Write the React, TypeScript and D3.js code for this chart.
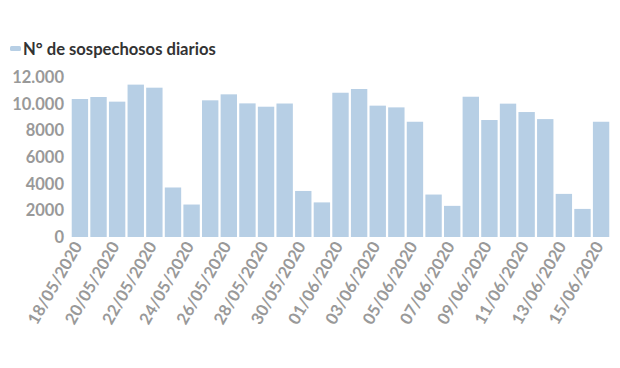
import React from "react";
import * as d3 from "d3";

const dates = [
  "18/05/2020","19/05/2020","20/05/2020","21/05/2020","22/05/2020","23/05/2020","24/05/2020",
  "25/05/2020","26/05/2020","27/05/2020","28/05/2020","29/05/2020","30/05/2020","31/05/2020",
  "01/06/2020","02/06/2020","03/06/2020","04/06/2020","05/06/2020","06/06/2020","07/06/2020",
  "08/06/2020","09/06/2020","10/06/2020","11/06/2020","12/06/2020","13/06/2020","14/06/2020",
  "15/06/2020",
];
const values = [
  10370, 10520, 10170, 11450, 11220, 3720, 2440,
  10270, 10720, 10040, 9790, 10030, 3460, 2600,
  10840, 11120, 9870, 9740, 8660, 3190, 2340,
  10540, 8790, 10020, 9390, 8860, 3240, 2110,
  8660,
];
const yTicks = [0, 2000, 4000, 6000, 8000, 10000, 12000];
const legendLabel = "N° de sospechosos diarios";

const fmt = (v: number) => (v >= 10000 ? d3.format(",")(v).replace(",", ".") : String(v));

export default function App() {
  const W = 620, H = 368;
  const x = d3.scaleBand<string>().domain(dates).range([70.6, 610.4]).paddingInner(0.12).paddingOuter(0.06);
  const y = d3.scaleLinear().domain([0, 12000]).range([237, 77.3]);
  const font = "Lato, 'Open Sans', sans-serif";
  return (
    <svg width={W} height={H} style={{ position: "absolute", left: 0, top: 0, background: "#fff" }}>
      <rect x={10} y={46} width={11} height={5} rx={1.5} fill="#b7cfe5" />
      <text x={23} y={54.5} fontFamily={font} fontWeight={700} fontSize={16.6} fill="#333">{legendLabel}</text>
      {values.map((v, i) => (
        <rect key={i} x={x(dates[i])} y={y(v)} width={x.bandwidth()} height={y(0) - y(v)} fill="#b7cfe5" />
      ))}
      {yTicks.map((t) => (
        <text key={t} x={64} y={y(t)} dy="0.36em" textAnchor="end" fontFamily={font} fontWeight={700} fontSize={16.5} fill="#999">{fmt(t)}</text>
      ))}
      {dates.map((d, i) => i % 2 === 0 ? (
        <text key={d} transform={`translate(${(x(d) as number) + x.bandwidth() / 2 + 3},${246}) rotate(-60)`} textAnchor="end" fontFamily={font} fontWeight={700} fontSize={16.5} fill="#999">{d}</text>
      ) : null)}
    </svg>
  );
}
